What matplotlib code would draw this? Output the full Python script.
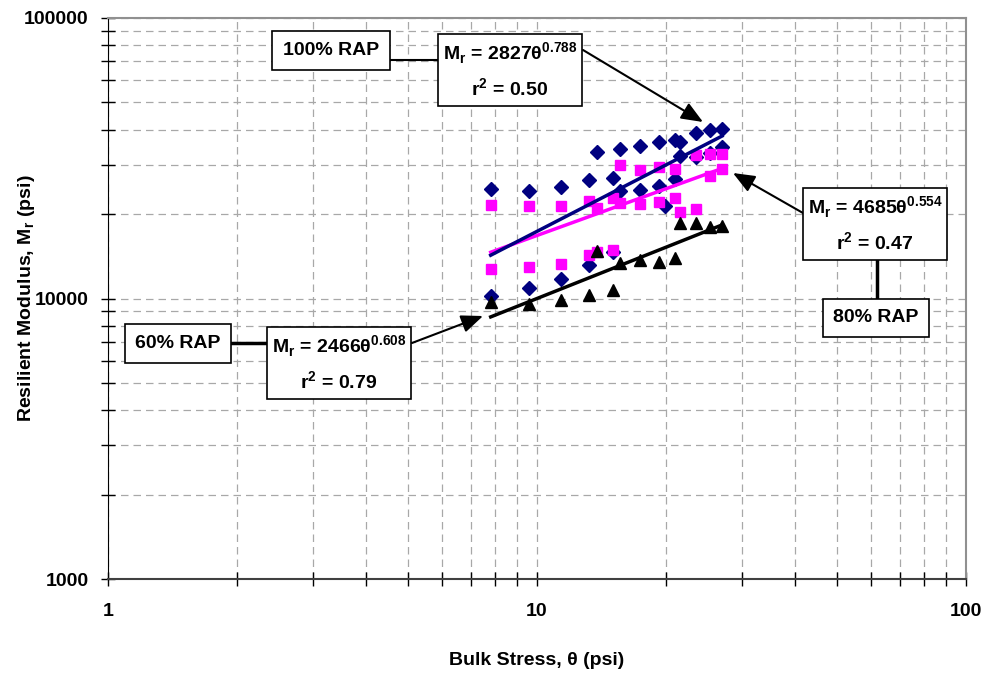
import numpy as np
import matplotlib
matplotlib.use("Agg")
import matplotlib.pyplot as plt
from matplotlib.patches import Rectangle
from matplotlib.lines import Line2D
from matplotlib.ticker import FixedLocator, NullFormatter, FuncFormatter

plt.rcParams["font.family"] = ["Liberation Sans", "DejaVu Sans"]
plt.rcParams["font.weight"] = "bold"
plt.rcParams["mathtext.fontset"] = "custom"
plt.rcParams["mathtext.rm"] = "Liberation Sans:bold"
plt.rcParams["mathtext.bf"] = "Liberation Sans:bold"

# 100% RAP
rap100_x = [7.8, 7.8, 9.6, 9.6, 11.4, 11.4, 13.2, 13.2, 13.8, 15.0, 15.0, 15.6, 15.6,
            17.4, 17.4, 19.2, 19.2, 19.9, 21.0, 21.0, 21.6, 21.6, 23.5, 23.5, 25.3, 25.3,
            27.0, 27.0]
rap100_y = [24510, 10210, 24160, 10930, 25040, 11740, 26450, 13170, 33200, 26890, 14680,
            34120, 24160, 34970, 24370, 36060, 25250, 21420, 36750, 26670, 36060, 32210,
            38810, 32030, 39970, 33100, 40100, 34590]

# 80% RAP
rap80_x = [7.8, 7.8, 9.6, 9.6, 11.4, 11.4, 13.2, 13.2, 13.8, 13.8, 15.0, 15.0, 15.6, 15.6,
           17.4, 17.4, 19.2, 19.2, 21.0, 21.0, 21.6, 23.5, 23.5, 25.3, 25.3, 27.0, 27.0]
rap80_y = [21600, 12770, 21320, 12990, 21420, 13240, 22320, 14290, 21010, 14680, 22760,
           14890, 29920, 21950, 28720, 21670, 29360, 22130, 29020, 22760, 20390, 32480,
           20900, 32670, 27400, 32670, 28950]

# 60% RAP
rap60_x = [7.8, 9.6, 11.4, 13.2, 13.8, 15.0, 15.6, 17.4, 19.2, 21.0, 21.6, 23.5, 25.3, 27.0]
rap60_y = [9740, 9540, 9880, 10290, 14810, 10720, 13420, 13720, 13530, 13980, 18540,
           18540, 18030, 18080]

# power-law fits  Mr = k1 * theta^k2
fit_k1 = {"100": 2827, "80": 4685, "60": 2466}
fit_k2 = {"100": 0.788, "80": 0.554, "60": 0.608}
fit_r2 = {"100": "0.50", "80": "0.47", "60": "0.79"}

fig = plt.figure(figsize=(9.87, 6.73), dpi=100)
ax = fig.add_axes([108 / 987, 1 - 579 / 673, 858 / 987, 561 / 673])
ax.set_xscale("log")
ax.set_yscale("log")
ax.set_xlim(1, 100)
ax.set_ylim(1000, 100000)

ax.plot(rap100_x, rap100_y, "D", color="#000080", markersize=7, linestyle="none", zorder=3)
ax.plot(rap80_x, rap80_y, "s", color="#FF00FF", markersize=7.5, linestyle="none", zorder=3)
ax.plot(rap60_x, rap60_y, "^", color="black", markersize=8, linestyle="none", zorder=3)

for key, xs, col in [("60", rap60_x, "black"), ("80", rap80_x, "#FF00FF"), ("100", rap100_x, "#000080")]:
    xx = np.geomspace(min(xs), max(xs), 50)
    ax.plot(xx, fit_k1[key] * xx ** fit_k2[key], color=col, lw=2.5, zorder=4)

ax.grid(True, which="both", color="#a8a8a8", linestyle=(0, (6, 4)), lw=0.9)
ax.set_axisbelow(True)

ax.xaxis.set_major_locator(FixedLocator([1, 10, 100]))
ax.yaxis.set_major_locator(FixedLocator([1000, 10000, 100000]))
ax.xaxis.set_minor_formatter(NullFormatter())
ax.yaxis.set_minor_formatter(NullFormatter())
ax.xaxis.set_major_formatter(FuncFormatter(lambda v, p: "%d" % round(v)))
ax.yaxis.set_major_formatter(FuncFormatter(lambda v, p: "%d" % round(v)))
ax.tick_params(which="both", direction="inout", length=10, width=1, color="black")
ax.tick_params(axis="y", which="both", pad=9, labelsize=14)
ax.tick_params(axis="x", which="both", pad=12, labelsize=14)

ax.spines["left"].set_color("black")
ax.spines["bottom"].set_color("#404040")
ax.spines["bottom"].set_linewidth(1.5)
ax.spines["top"].set_color("#909090")
ax.spines["right"].set_color("#909090")
ax.spines["top"].set_linewidth(1.5)
ax.spines["right"].set_linewidth(1.5)

ax.set_xlabel("Bulk Stress, θ (psi)", fontsize=14, fontweight="bold", va="top")
ax.set_ylabel(r"Resilient Modulus, M$_{\mathbf{r}}$ (psi)", fontsize=14, fontweight="bold")
ax.xaxis.set_label_coords(0.5, -0.13)
ax.yaxis.set_label_coords(-0.083, 0.5)


def box(x0, x1, y0, y1):
    ax.add_patch(Rectangle((x0, y0), x1 - x0, y1 - y0, transform=ax.transAxes,
                           fc="white", ec="black", lw=1.2, zorder=6, clip_on=False))


def seg(x0, y0, x1, y1, lw=2):
    ax.add_line(Line2D([x0, x1], [y0, y1], transform=ax.transAxes, color="black",
                       lw=lw, zorder=5, clip_on=False))


def eq_box(key, x0, x1, y0, y1):
    box(x0, x1, y0, y1)
    cx = (x0 + x1) / 2
    ax.text(cx, y1 - 0.034, r"M$_{\mathbf{r}}$ = %d" % fit_k1[key] + "θ" +
            r"$^{\mathbf{%.3f}}$" % fit_k2[key],
            transform=ax.transAxes, ha="center", va="center", fontsize=14,
            fontweight="bold", zorder=7)
    ax.text(cx, y1 - 0.097, r"r$^{\mathbf{2}}$ = " + fit_r2[key],
            transform=ax.transAxes, ha="center", va="center", fontsize=14,
            fontweight="bold", zorder=7)


def label_box(txt, x0, x1, y0, y1):
    box(x0, x1, y0, y1)
    ax.text((x0 + x1) / 2, (y0 + y1) / 2, txt, transform=ax.transAxes, ha="center",
            va="center", fontsize=14, fontweight="bold", zorder=7)


def arrow(x0, y0, x1, y1):
    ax.annotate("", xy=(x1, y1), xytext=(x0, y0), xycoords="axes fraction",
                textcoords="axes fraction", zorder=5,
                arrowprops=dict(arrowstyle="-|>,head_length=1.1,head_width=0.45",
                                mutation_scale=12, color="black", lw=1.5,
                                shrinkA=0, shrinkB=0))


# 100% RAP
seg(0.3287, 0.9251, 0.3846, 0.9251, lw=1.5)
label_box("100% RAP", 0.1911, 0.3287, 0.9073, 0.9768)
eq_box("100", 0.3846, 0.5524, 0.8431, 0.9715)
arrow(0.5536, 0.9430, 0.6935, 0.8146)

# 60% RAP
seg(0.1434, 0.4207, 0.1853, 0.4207, lw=2.5)
label_box("60% RAP", 0.0198, 0.1434, 0.3850, 0.4545)
eq_box("60", 0.1853, 0.3531, 0.3209, 0.4492)
arrow(0.3543, 0.4207, 0.4371, 0.4688)

# 80% RAP
seg(0.8963, 0.5686, 0.8963, 0.4991, lw=2.5)
eq_box("80", 0.8100, 0.9779, 0.5686, 0.6970)
label_box("80% RAP", 0.8333, 0.9569, 0.4314, 0.4991)
arrow(0.8100, 0.6524, 0.7284, 0.7237)

fig.savefig("out.png", dpi=100)
